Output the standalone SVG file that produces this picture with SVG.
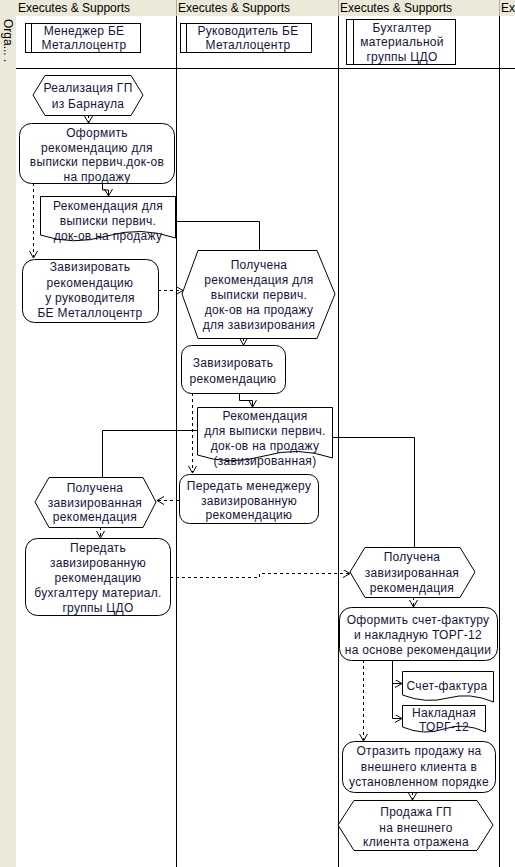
<svg xmlns="http://www.w3.org/2000/svg" width="515" height="867" viewBox="0 0 515 867">
<defs>
<style>
.t{font-family:"Liberation Sans",Arial,sans-serif;font-size:12px;fill:#14143c;text-anchor:middle;letter-spacing:0.3px}
.h{font-family:"Liberation Sans",Arial,sans-serif;font-size:12px;fill:#000}
.s{fill:#fff;stroke:#000;stroke-width:1}
.c{fill:none;stroke:#000;stroke-width:1}
.d{fill:none;stroke:#000;stroke-width:1;stroke-dasharray:3,3}
</style>
<marker id="a" markerUnits="userSpaceOnUse" markerWidth="10" markerHeight="10" refX="8" refY="4" orient="auto">
<path d="M1,0 L8,4 L1,8" fill="none" stroke="#000" stroke-width="1"/>
</marker>
</defs>
<rect x="0" y="0" width="515" height="867" fill="#fff"/>
<rect x="0" y="0" width="515" height="16" fill="#ECE9D8"/>
<rect x="0" y="0" width="16" height="867" fill="#ECE9D8"/>
<g id="lanes">
<line x1="176.5" y1="0" x2="176.5" y2="16" stroke="#b0ad9f"/>
<line x1="338.5" y1="0" x2="338.5" y2="16" stroke="#b0ad9f"/>
<line x1="499.5" y1="0" x2="499.5" y2="16" stroke="#b0ad9f"/>
<line x1="176.5" y1="16" x2="176.5" y2="867" stroke="#000"/>
<line x1="338.5" y1="16" x2="338.5" y2="867" stroke="#000"/>
<line x1="499.5" y1="16" x2="499.5" y2="867" stroke="#000"/>
<line x1="16" y1="68.5" x2="515" y2="68.5" stroke="#000"/>
<text class="h" x="18" y="12">Executes &amp; Supports</text>
<text class="h" x="178" y="12">Executes &amp; Supports</text>
<text class="h" x="340" y="12">Executes &amp; Supports</text>
<text class="h" x="501" y="12">Executes &amp; Supports</text>
<text class="h" transform="translate(4,19) rotate(90)">Orga... .</text>
</g>
<g id="role1">
<rect class="s" x="25.5" y="23.5" width="115" height="29"/>
<line class="c" x1="31.5" y1="23.5" x2="31.5" y2="52.5"/>
<text class="t" x="84" y="35">Менеджер БЕ</text>
<text class="t" x="84" y="49">Металлоцентр</text>
</g>
<g id="role2">
<rect class="s" x="180.5" y="23.5" width="131" height="29"/>
<line class="c" x1="186.5" y1="23.5" x2="186.5" y2="52.5"/>
<text class="t" x="248" y="35">Руководитель БЕ</text>
<text class="t" x="248" y="49">Металлоцентр</text>
</g>
<g id="role3">
<rect class="s" x="346.5" y="19.5" width="109" height="45"/>
<line class="c" x1="353.5" y1="19.5" x2="353.5" y2="64.5"/>
<text class="t" x="402" y="32">Бухгалтер</text>
<text class="t" x="402" y="46">материальной</text>
<text class="t" x="402" y="61">группы ЦДО</text>
</g>
<g id="connectors">
<line class="d" x1="88.5" y1="115" x2="88.5" y2="123" marker-end="url(#a)"/>
<polyline class="c" points="102.5,183 102.5,190 108.5,190 108.5,196" marker-end="url(#a)"/>
<line class="d" x1="33.5" y1="183" x2="33.5" y2="258" marker-end="url(#a)"/>
<polyline class="c" points="175,221.5 259.5,221.5 259.5,250"/>
<line class="d" x1="158" y1="290.5" x2="183" y2="290.5" marker-end="url(#a)"/>
<line class="d" x1="243.5" y1="338" x2="243.5" y2="345" marker-end="url(#a)"/>
<polyline class="c" points="239.5,393 239.5,400.5 252.5,400.5 252.5,407" marker-end="url(#a)"/>
<line class="d" x1="192.5" y1="393" x2="192.5" y2="473" marker-end="url(#a)"/>
<polyline class="c" points="197,430.5 102.5,430.5 102.5,477"/>
<polyline class="c" points="332,437.5 414.5,437.5 414.5,547"/>
<line class="d" x1="179" y1="500.5" x2="157" y2="500.5" marker-end="url(#a)"/>
<line class="d" x1="100.5" y1="527" x2="100.5" y2="538" marker-end="url(#a)"/>
<polyline class="d" points="170,577.5 259.5,577.5 259.5,573.5 350,573.5" marker-end="url(#a)"/>
<line class="d" x1="413.5" y1="597" x2="413.5" y2="607" marker-end="url(#a)"/>
<polyline class="c" points="392.5,660 392.5,718.5 402,718.5" marker-end="url(#a)"/>
<polyline class="c" points="392.5,683.5 402,683.5" marker-end="url(#a)"/>
<line class="d" x1="363.5" y1="660" x2="363.5" y2="741" marker-end="url(#a)"/>
<line class="d" x1="412.5" y1="792" x2="412.5" y2="800" marker-end="url(#a)"/>
</g>
<g id="n1">
<polygon class="s" points="33,95 45,75.5 131,75.5 143,95 131,115.5 45,115.5"/>
<text class="t" x="88" y="92">Реализация ГП</text>
<text class="t" x="88" y="108">из Барнаула</text>
</g>
<g id="n2">
<rect class="s" x="19.5" y="123.5" width="155" height="60" rx="12"/>
<text class="t" x="97" y="137">Оформить</text>
<text class="t" x="97" y="152">рекомендацию для</text>
<text class="t" x="97" y="166">выписки первич.док-ов</text>
<text class="t" x="97" y="181">на продажу</text>
</g>
<g id="n3">
<path class="s" d="M40.5,196.5 H175.5 V238 Q141,226 107,236 T40.5,235 Z"/>
<text class="t" x="108" y="210">Рекомендация для</text>
<text class="t" x="108" y="225">выписки первич.</text>
<text class="t" x="108" y="240">док-ов на продажу</text>
</g>
<g id="n4">
<rect class="s" x="22.5" y="259.5" width="136" height="63" rx="12"/>
<text class="t" x="90" y="271">Завизировать</text>
<text class="t" x="90" y="287">рекомендацию</text>
<text class="t" x="90" y="302">у руководителя</text>
<text class="t" x="90" y="317">БЕ Металлоцентр</text>
</g>
<g id="n5">
<polygon class="s" points="182,294 198,250.5 317,250.5 335,294 317,338.5 198,338.5"/>
<text class="t" x="259" y="269">Получена</text>
<text class="t" x="259" y="284">рекомендация для</text>
<text class="t" x="259" y="299">выписки первич.</text>
<text class="t" x="259" y="314">док-ов на продажу</text>
<text class="t" x="259" y="329">для завизирования</text>
</g>
<g id="n6">
<rect class="s" x="181.5" y="345.5" width="104" height="48" rx="10"/>
<text class="t" x="233" y="367">Завизировать</text>
<text class="t" x="233" y="383">рекомендацию</text>
</g>
<g id="n7">
<path class="s" d="M197.5,407.5 H332.5 V458 Q298,446 264,456 T197.5,455 Z"/>
<text class="t" x="265" y="420">Рекомендация</text>
<text class="t" x="265" y="435">для выписки первич.</text>
<text class="t" x="265" y="450">док-ов на продажу</text>
<text class="t" x="265" y="465">(завизированная)</text>
</g>
<g id="n8">
<rect class="s" x="179.5" y="474.5" width="139" height="49" rx="10"/>
<text class="t" x="249" y="490">Передать менеджеру</text>
<text class="t" x="249" y="505">завизированную</text>
<text class="t" x="249" y="519">рекомендацию</text>
</g>
<g id="n9">
<polygon class="s" points="35,502 49,477.5 143,477.5 156,502 143,527.5 49,527.5"/>
<text class="t" x="95" y="492">Получена</text>
<text class="t" x="95" y="507">завизированная</text>
<text class="t" x="95" y="521">рекомендация</text>
</g>
<g id="n10">
<rect class="s" x="25.5" y="538.5" width="145" height="77" rx="12"/>
<text class="t" x="98" y="552">Передать</text>
<text class="t" x="98" y="567">завизированную</text>
<text class="t" x="98" y="582">рекомендацию</text>
<text class="t" x="98" y="597">бухгалтеру материал.</text>
<text class="t" x="98" y="612">группы ЦДО</text>
</g>
<g id="n11">
<polygon class="s" points="350,572 365,547.5 460,547.5 475,572 460,597.5 365,597.5"/>
<text class="t" x="412" y="561">Получена</text>
<text class="t" x="412" y="577">завизированная</text>
<text class="t" x="412" y="592">рекомендация</text>
</g>
<g id="n12">
<rect class="s" x="339.5" y="607.5" width="158" height="53" rx="12"/>
<text class="t" x="418" y="624">Оформить счет-фактуру</text>
<text class="t" x="418" y="639">и накладную ТОРГ-12</text>
<text class="t" x="418" y="654">на основе рекомендации</text>
</g>
<g id="n13">
<path class="s" d="M402.5,671.5 H493.5 V702 Q470,692 448,698 T402.5,695 Z"/>
<text class="t" x="447" y="690">Счет-фактура</text>
</g>
<g id="n14">
<path class="s" d="M402.5,705.5 H485.5 V732 Q464,722 444,729 T402.5,727 Z"/>
<text class="t" x="444" y="717">Накладная</text>
<text class="t" x="444" y="731">ТОРГ-12</text>
</g>
<g id="n15">
<rect class="s" x="342.5" y="741.5" width="153" height="51" rx="12"/>
<text class="t" x="419" y="755">Отразить продажу на</text>
<text class="t" x="419" y="771">внешнего клиента в</text>
<text class="t" x="419" y="786">установленном порядке</text>
</g>
<g id="n16">
<polygon class="s" points="338,825 354,800.5 477,800.5 493,825 477,850.5 354,850.5"/>
<text class="t" x="416" y="816">Продажа ГП</text>
<text class="t" x="416" y="832">на внешнего</text>
<text class="t" x="416" y="846">клиента отражена</text>
</g>
</svg>
